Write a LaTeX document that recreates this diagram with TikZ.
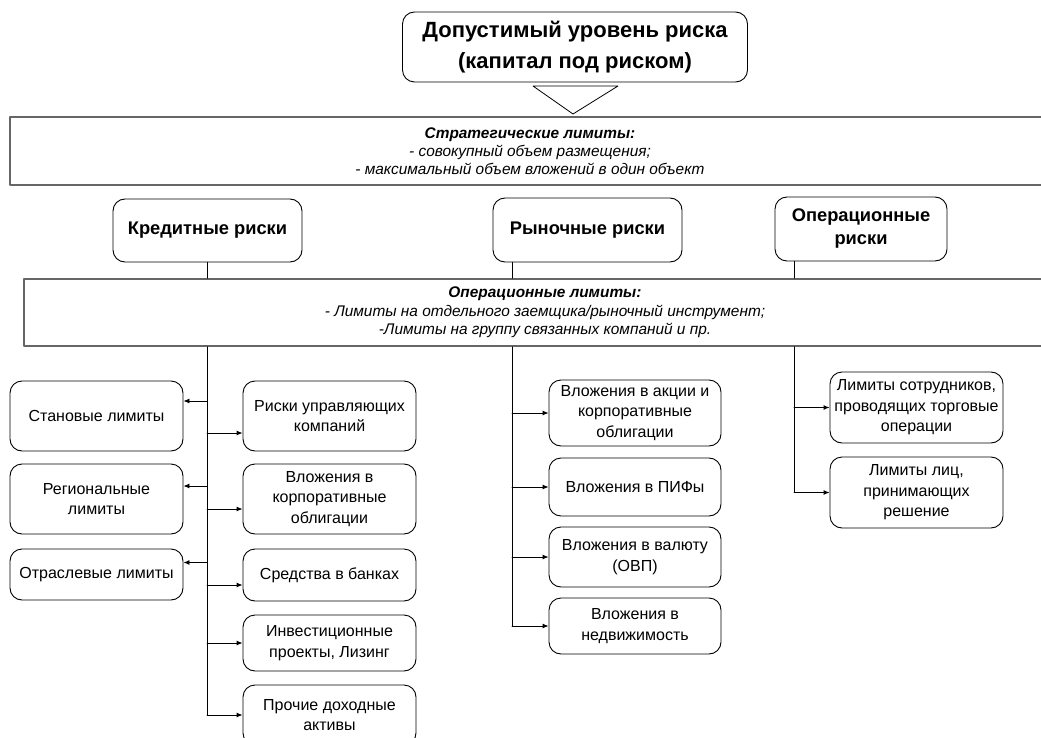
\documentclass[tikz,border=0pt]{standalone}
\usepackage{fontspec}
\setmainfont{Liberation Sans}
\usetikzlibrary{arrows.meta}

\tikzset{
  box/.style={draw, line width=0.9pt, rounded corners=12pt, align=center,
    inner sep=2pt, font=\fontsize{16}{20.5}\selectfont},
  riskbox/.style={box, font=\bfseries\fontsize{18.3}{23}\selectfont},
  band/.style={draw=black!60, line width=1.8pt, align=center, inner sep=0pt,
    font=\itshape\fontsize{15.4}{18.3}\selectfont},
  link/.style={line width=0.9pt},
  arr/.style={link, -{Latex[length=6pt,width=5pt]}}
}

\begin{document}
\begin{tikzpicture}[x=1pt, y=-1pt, line cap=round, line join=round]
  \useasboundingbox (0,0) rectangle (1041,738);
  \clip (0,0) rectangle (1041,738);

  % Top box and triangle
  \node[box, font=\bfseries\fontsize{22}{31}\selectfont, minimum width=345, minimum height=70]
    (top) at (575,47) {Допустимый уровень риска\\(капитал под риском)};
  \coordinate (T1) at (533,86);
  \coordinate (T2) at (618,86);
  \coordinate (T3) at (573,114);
  \draw[line width=0.8pt] (T1) -- (T2) -- (T3) -- cycle;

  % Limit bands
  \node[band, minimum width=1040, minimum height=68] (strat) at (530,151)
    {\textbf{Стратегические лимиты:}\\- совокупный объем размещения;\\- максимальный объем вложений в один объект};
  \node[band, minimum width=1042, minimum height=67] (op) at (545,312.5)
    {\textbf{Операционные лимиты:}\\- Лимиты на отдельного заемщика/рыночный инструмент;\\-Лимиты на группу связанных компаний и пр.};

  % Risk boxes
  \node[riskbox, minimum width=189, minimum height=63] (kred) at (207.5,230.5) {Кредитные риски};
  \node[riskbox, minimum width=189, minimum height=64] (ryn) at (587.5,230) {Рыночные риски};
  \node[riskbox, minimum width=172, minimum height=64] (oper) at (861,229) {Операционные\\риски};

  % Trunks
  \coordinate (trunkK) at (207,0);
  \coordinate (trunkR) at (512,0);
  \coordinate (trunkO) at (794,0);

  % Credit risk column
  \node[box, minimum width=173, minimum height=70] (stan) at (96.5,416) {Становые лимиты};
  \node[box, minimum width=173, minimum height=70] (reg) at (96.5,499) {Региональные\\лимиты};
  \node[box, minimum width=173, minimum height=51] (otr) at (96.5,574.5) {Отраслевые лимиты};
  \node[box, minimum width=173, minimum height=70] (uprav) at (329.5,416) {Риски управляющих\\компаний};
  \node[box, minimum width=173, minimum height=70] (korp) at (329.5,499) {Вложения в\\корпоративные\\облигации};
  \node[box, minimum width=173, minimum height=52] (bank) at (329.5,575) {Средства в банках};
  \node[box, minimum width=173, minimum height=56] (invest) at (329.5,643) {Инвестиционные\\проекты, Лизинг};
  \node[box, minimum width=173, minimum height=60] (proch) at (329.5,715) {Прочие доходные\\активы};

  % Market risk column
  \node[box, minimum width=172, minimum height=66] (akc) at (635,413) {Вложения в акции и\\корпоративные\\облигации};
  \node[box, minimum width=172, minimum height=58] (pif) at (635,487) {Вложения в ПИФы};
  \node[box, minimum width=172, minimum height=60] (val) at (635,557) {Вложения в валюту\\(ОВП)};
  \node[box, minimum width=172, minimum height=56] (nedv) at (635,626) {Вложения в\\недвижимость};

  % Operational risk column
  \node[box, minimum width=173, minimum height=71] (sotr) at (916.5,407.5) {Лимиты сотрудников,\\проводящих торговые\\операции};
  \node[box, minimum width=173, minimum height=71] (lic) at (916.5,492.5) {Лимиты лиц,\\принимающих\\решение};

  % Connectors to the operational band
  \draw[link] (kred.south -| trunkK) -- (op.north -| trunkK);
  \draw[link] (ryn.south -| trunkR) -- (op.north -| trunkR);
  \draw[link] (oper.south -| trunkO) -- (op.north -| trunkO);

  % Vertical trunks
  \draw[link] (op.south -| trunkK) -- (proch.west -| trunkK);
  \draw[link] (op.south -| trunkR) -- (nedv.west -| trunkR);
  \draw[link] (op.south -| trunkO) -- (lic.west -| trunkO);

  % Arrows, credit risks
  \draw[arr] ([yshift=15pt]stan.east -| trunkK) -- ([yshift=15pt]stan.east);
  \draw[arr] ([yshift=13pt]reg.east -| trunkK) -- ([yshift=13pt]reg.east);
  \draw[arr] ([yshift=12pt]otr.east -| trunkK) -- ([yshift=12pt]otr.east);
  \draw[arr] ([yshift=-17pt]uprav.west -| trunkK) -- ([yshift=-17pt]uprav.west);
  \draw[arr] ([yshift=-10pt]korp.west -| trunkK) -- ([yshift=-10pt]korp.west);
  \draw[arr] ([yshift=-10pt]bank.west -| trunkK) -- ([yshift=-10pt]bank.west);
  \draw[arr] (invest.west -| trunkK) -- (invest.west);
  \draw[arr] (proch.west -| trunkK) -- (proch.west);

  % Arrows, market risks
  \draw[arr] (akc.west -| trunkR) -- (akc.west);
  \draw[arr] (pif.west -| trunkR) -- (pif.west);
  \draw[arr] (val.west -| trunkR) -- (val.west);
  \draw[arr] (nedv.west -| trunkR) -- (nedv.west);

  % Arrows, operational risks
  \draw[arr] (sotr.west -| trunkO) -- (sotr.west);
  \draw[arr] (lic.west -| trunkO) -- (lic.west);
\end{tikzpicture}
\end{document}
